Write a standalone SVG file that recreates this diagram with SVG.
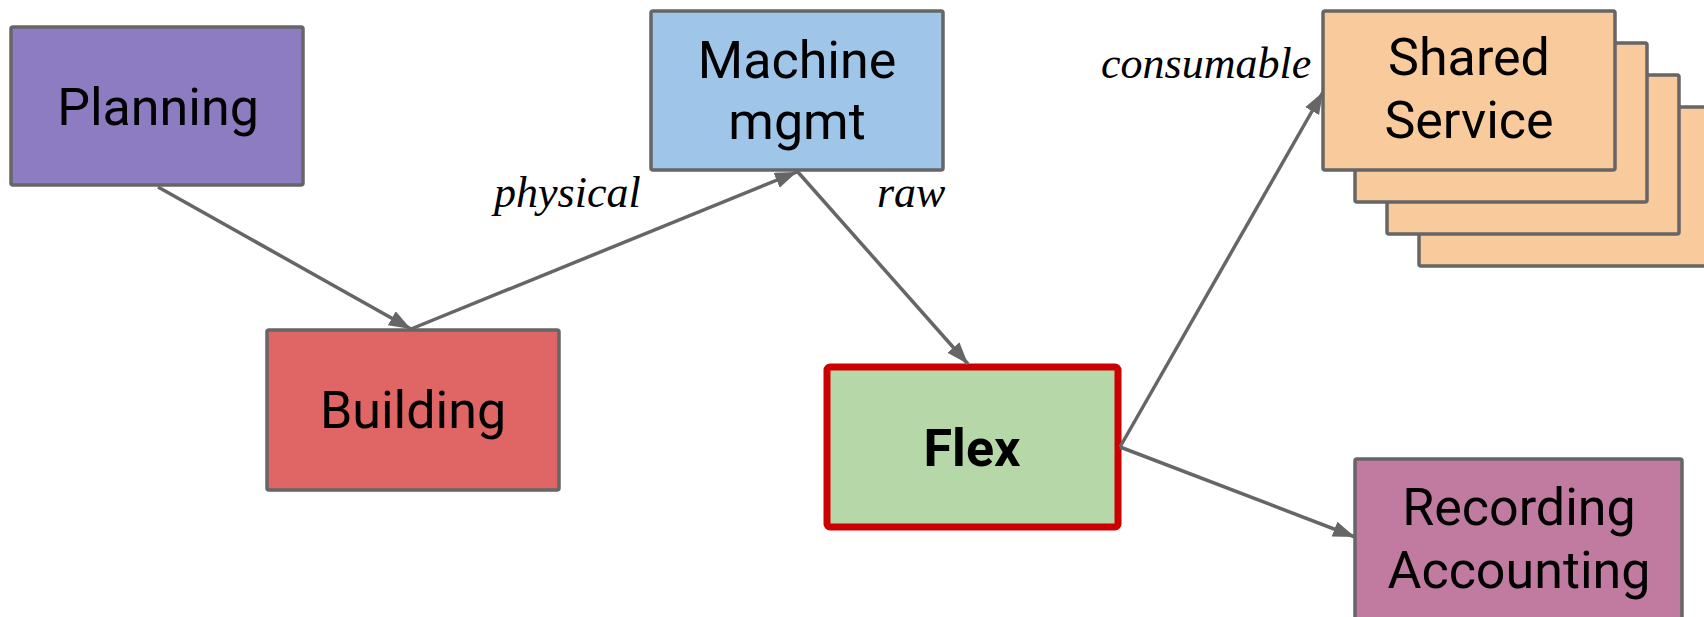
<svg xmlns="http://www.w3.org/2000/svg" width="1704" height="617" viewBox="0 0 1704 617">
<style>
.box{stroke:#666666;stroke-width:3.5}
.lbl{font-family:Roboto,"Liberation Sans",sans-serif;font-size:52px;fill:#000;text-anchor:middle}
.edge{font-family:"Liberation Serif",serif;font-style:italic;font-size:44px;fill:#000}
.conn{stroke:#666666;stroke-width:3.5;fill:none}
</style>
<defs>
<marker id="arr" markerUnits="userSpaceOnUse" markerWidth="24" markerHeight="18" refX="22" refY="8" orient="auto">
<path d="M0,0 L22,8 L0,16 z" fill="#666666"/>
</marker>
</defs>
<rect width="1704" height="617" fill="#ffffff"/>
<g id="planning">
<rect class="box" x="11" y="27" width="292" height="158" rx="2" fill="#8e7cc3"/>
<text class="lbl" x="158" y="125">Planning</text>
</g>
<g id="machine">
<rect class="box" x="651" y="11" width="292" height="159" rx="2" fill="#9fc5e8"/>
<text class="lbl" x="797" y="78">Machine</text>
<text class="lbl" x="797" y="139">mgmt</text>
</g>
<g id="building">
<rect class="box" x="267" y="330" width="292" height="160" rx="2" fill="#e06666"/>
<text class="lbl" x="413" y="428">Building</text>
</g>
<g id="flex">
<rect x="827" y="367" width="291" height="160" rx="3" fill="#b6d7a8" stroke="#cc0000" stroke-width="7"/>
<text class="lbl" x="972" y="466" font-weight="bold">Flex</text>
</g>
<g id="shared-service">
<rect class="box" x="1419" y="107" width="292" height="159" rx="2" fill="#f9cb9c"/>
<rect class="box" x="1387" y="75" width="292" height="159" rx="2" fill="#f9cb9c"/>
<rect class="box" x="1355" y="43" width="292" height="159" rx="2" fill="#f9cb9c"/>
<rect class="box" x="1323" y="11" width="292" height="159" rx="2" fill="#f9cb9c"/>
<text class="lbl" x="1469" y="75">Shared</text>
<text class="lbl" x="1469" y="138">Service</text>
</g>
<g id="recording">
<rect class="box" x="1355" y="459" width="327" height="170" rx="2" fill="#c27ba0"/>
<text class="lbl" x="1519" y="525">Recording</text>
<text class="lbl" x="1519" y="588">Accounting</text>
</g>
<g id="connectors">
<line class="conn" x1="158" y1="187" x2="411" y2="329" marker-end="url(#arr)"/>
<line class="conn" x1="411" y1="329" x2="797" y2="172" marker-end="url(#arr)"/>
<line class="conn" x1="797" y1="171" x2="968" y2="364" marker-end="url(#arr)"/>
<line class="conn" x1="1120" y1="447" x2="1323" y2="92" marker-end="url(#arr)"/>
<line class="conn" x1="1120" y1="447" x2="1355" y2="537" marker-end="url(#arr)"/>
<text class="edge" x="494" y="207">physical</text>
<text class="edge" x="877" y="207">raw</text>
<text class="edge" x="1101" y="78">consumable</text>
</g>
</svg>
